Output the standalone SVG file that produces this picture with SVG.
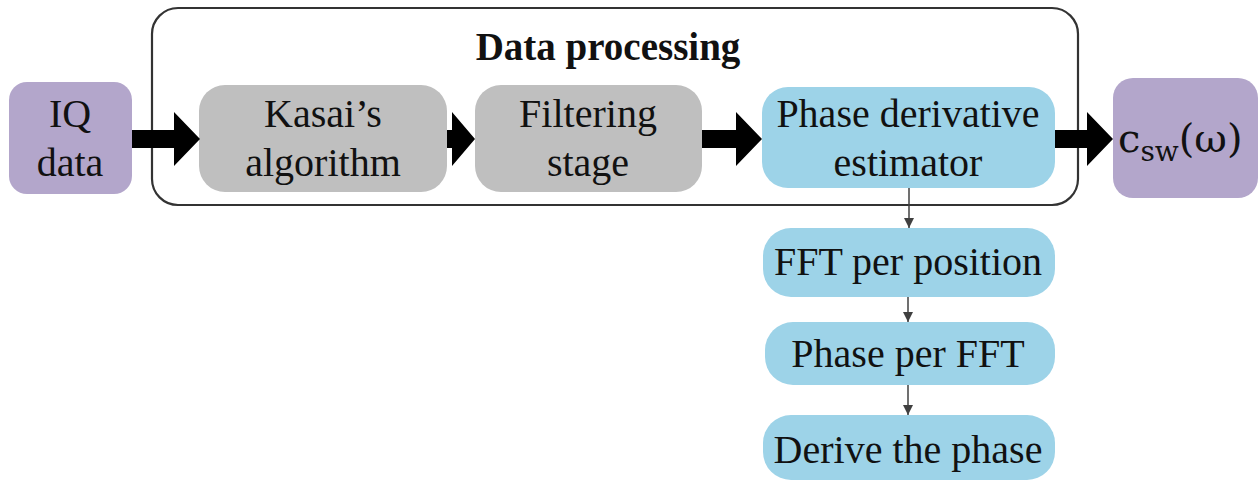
<svg xmlns="http://www.w3.org/2000/svg" width="1259" height="484" viewBox="0 0 1259 484">
<style>
.thick{fill:#000}
.thin{stroke:#404040;stroke-width:1.5;fill:none}
.pur{fill:#b3a6cb}
.gry{fill:#bfbfbf}
.blu{fill:#9dd3e8}
</style>
<defs>
<marker id="ah" viewBox="0 0 10 10" refX="10" refY="5" markerWidth="10" markerHeight="10" markerUnits="userSpaceOnUse" orient="auto">
<path d="M0,0 L10,5 L0,10 z" fill="#404040"/>
</marker>
</defs>
<rect width="1259" height="484" fill="#fff"/>
<g id="container">
<rect x="152" y="8" width="926" height="197" rx="26" fill="none" stroke="#333" stroke-width="2.2"/>
<text font-family="Liberation Serif" font-size="39" font-weight="bold" fill="#111" text-anchor="middle" x="608" y="60">Data processing</text>
</g>
<g id="iq">
<rect class="pur" x="9" y="82" width="123" height="112" rx="18"/>
<text font-family="Liberation Serif" font-size="40" fill="#111" text-anchor="middle" x="70" y="127">IQ</text>
<text font-family="Liberation Serif" font-size="40" fill="#111" text-anchor="middle" x="70" y="176">data</text>
</g>
<g id="kasai">
<rect class="gry" x="199" y="85" width="248" height="107" rx="26"/>
<text font-family="Liberation Serif" font-size="40" fill="#111" text-anchor="middle" x="323" y="127">Kasai’s</text>
<text font-family="Liberation Serif" font-size="40" fill="#111" text-anchor="middle" x="323" y="176">algorithm</text>
</g>
<g id="filter">
<rect class="gry" x="475" y="85" width="227" height="107" rx="26"/>
<text font-family="Liberation Serif" font-size="40" fill="#111" text-anchor="middle" x="588" y="127">Filtering</text>
<text font-family="Liberation Serif" font-size="40" fill="#111" text-anchor="middle" x="588" y="176">stage</text>
</g>
<g id="estimator">
<rect class="blu" x="762" y="87" width="293" height="101" rx="26"/>
<text font-family="Liberation Serif" font-size="40" fill="#111" text-anchor="middle" x="908" y="127">Phase derivative</text>
<text font-family="Liberation Serif" font-size="40" fill="#111" text-anchor="middle" x="908" y="176">estimator</text>
</g>
<g id="csw">
<rect class="pur" x="1113" y="78" width="145" height="120" rx="20"/>
<text x="1118" y="152" font-family="DejaVu Serif" font-size="40" fill="#111">c<tspan font-size="28" dy="9">sw</tspan><tspan dy="-9">(ω)</tspan></text>
</g>
<g id="fft">
<rect class="blu" x="763" y="228" width="292" height="69" rx="28"/>
<text font-family="Liberation Serif" font-size="40" fill="#111" text-anchor="middle" x="908" y="275">FFT per position</text>
</g>
<g id="phasefft">
<rect class="blu" x="765" y="322" width="290" height="63" rx="28"/>
<text font-family="Liberation Serif" font-size="40" fill="#111" text-anchor="middle" x="908" y="367">Phase per FFT</text>
</g>
<g id="derive">
<rect class="blu" x="763" y="415" width="292" height="65" rx="28"/>
<text font-family="Liberation Serif" font-size="40" fill="#111" text-anchor="middle" x="908" y="463">Derive the phase</text>
</g>
<g id="connectors">
<polygon class="thick" points="132,130 174,130 174,112 200,139 174,166 174,148 132,148"/>
<polygon class="thick" points="447,130 452,130 452,112 475,139 452,166 452,148 447,148"/>
<polygon class="thick" points="702,130 736,130 736,112 762,139 736,166 736,148 702,148"/>
<polygon class="thick" points="1055,130 1087,130 1087,112 1113,139 1087,166 1087,148 1055,148"/>
<line class="thin" x1="909" y1="188" x2="909" y2="228" marker-end="url(#ah)"/>
<line class="thin" x1="908" y1="297" x2="908" y2="322" marker-end="url(#ah)"/>
<line class="thin" x1="908" y1="385" x2="908" y2="415" marker-end="url(#ah)"/>
</g>
</svg>
